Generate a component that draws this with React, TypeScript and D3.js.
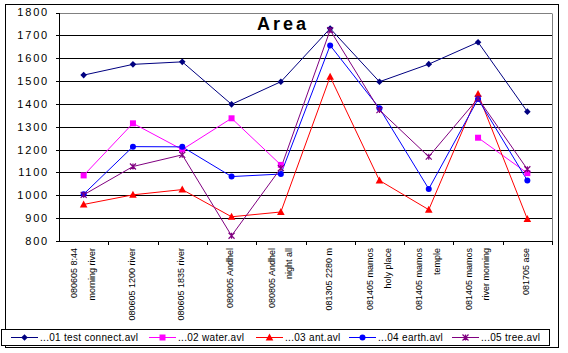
import React from "react";
import * as d3 from "d3";

const categories: string[][] = [
  ["080605 8:44", "morning river"],
  ["080605 1200 river"],
  ["080605 1835 river"],
  ["080805 Andhel"],
  ["080805 Andhel", "night all"],
  ["081305 2280 m"],
  ["081405 mamos", "holy place"],
  ["081405 mamos", "temple"],
  ["081405 mamos", "river morning"],
  ["081705 ase"],
];

const seriesNames = ["...01 test connect.avl", "...02 water.avl", "...03 ant.avl", "...04 earth.avl", "...05 tree.avl"];
const seriesColors = ["#000080", "#FF00FF", "#FF0000", "#0000FF", "#800080"];
const seriesMarkers = ["diamond", "square", "triangle", "circle", "cross"];

const s01: (number | null)[] = [1526, 1573, 1584, 1398, 1497, 1730, 1497, 1574, 1670, 1366];
const s02: (number | null)[] = [1087, 1315, 1200, 1337, 1133, null, null, null, 1252, 1097];
const s03: (number | null)[] = [960, 1002, 1025, 906, 927, 1519, 1065, 937, 1443, 896];
const s04: (number | null)[] = [1005, 1213, 1212, 1082, 1093, 1656, 1381, 1028, 1421, 1065];
const s05: (number | null)[] = [1002, 1126, 1177, 823, 1119, 1723, 1373, 1169, 1424, 1114];
const seriesValues = [s01, s02, s03, s04, s05];

const yTicks = [800, 900, 1000, 1100, 1200, 1300, 1400, 1500, 1600, 1700, 1800];
const title = "Area";

const legendX = [11, 149, 256, 349, 452];

const W = 568;
const H = 353;
const plot = { left: 59, right: 552, top: 12.5, bottom: 241 };
const FONT = "Arial, 'Liberation Sans', sans-serif";

function Marker({ type, x, y, color }: { type: string; x: number; y: number; color: string }) {
  if (type === "diamond") {
    const r = 3.3;
    return <path d={`M${x},${y - r}L${x + r},${y}L${x},${y + r}L${x - r},${y}Z`} fill={color} />;
  }
  if (type === "square") {
    return <rect x={x - 3} y={y - 3} width={6} height={6} fill={color} />;
  }
  if (type === "triangle") {
    return <path d={`M${x},${y - 4}L${x + 3.8},${y + 3}L${x - 3.8},${y + 3}Z`} fill={color} />;
  }
  if (type === "circle") {
    return <circle cx={x} cy={y} r={3} fill={color} />;
  }
  const r = 3;
  return (
    <path
      d={`M${x - r},${y - r}L${x + r},${y + r}M${x - r},${y + r}L${x + r},${y - r}M${x},${y - r}L${x},${y + r}`}
      stroke={color}
      strokeWidth={1.2}
      fill="none"
    />
  );
}

export default function App() {
  const x = d3
    .scaleBand<number>()
    .domain(categories.map((_, i) => i))
    .range([plot.left, plot.right]);
  const y = d3.scaleLinear().domain([800, 1800]).range([plot.bottom, plot.top]);
  const cx = (i: number) => (x(i) as number) + x.bandwidth() / 2;

  const line = d3
    .line<number | null>()
    .defined((d) => d !== null)
    .x((_, i) => cx(i))
    .y((d) => y(d as number));

  return (
    <svg
      width={W}
      height={H}
      style={{ position: "absolute", left: 0, top: 0, background: "#fff" }}
      fontFamily={FONT}
    >
      <rect x={0} y={0} width={W} height={H} fill="#fff" />
      {/* outer frame */}
      <rect x={5.5} y={4.5} width={553} height={343} fill="none" stroke="#000" strokeWidth={1} />

      {/* gridlines */}
      {yTicks.map((t) => (
        <line
          key={t}
          x1={plot.left}
          x2={plot.right}
          y1={Math.round(y(t)) + 0.5}
          y2={Math.round(y(t)) + 0.5}
          stroke={t === 1800 ? "#808080" : "#000"}
          strokeWidth={1}
        />
      ))}
      <line x1={plot.right + 0.5} x2={plot.right + 0.5} y1={Math.round(y(1800)) + 0.5} y2={Math.round(y(800)) + 0.5} stroke="#808080" />
      <line x1={plot.left + 0.5} x2={plot.left + 0.5} y1={Math.round(y(1800))} y2={Math.round(y(800)) + 1} stroke="#000" />

      {/* y ticks */}
      {yTicks.map((t) => (
        <g key={"yt" + t}>
          <line x1={plot.left - 3} x2={plot.left} y1={Math.round(y(t)) + 0.5} y2={Math.round(y(t)) + 0.5} stroke="#000" />
          <text x={49} y={y(t)} dy="0.36em" textAnchor="end" fontSize={11} letterSpacing={1.8}>
            {t}
          </text>
        </g>
      ))}

      {/* x ticks */}
      {categories.map((_, i) => (
        <line
          key={"xt" + i}
          x1={Math.round((x(i) as number) + x.bandwidth()) + 0.5}
          x2={Math.round((x(i) as number) + x.bandwidth()) + 0.5}
          y1={plot.bottom}
          y2={plot.bottom + 4}
          stroke="#000"
        />
      ))}

      {/* x labels */}
      {categories.map((lines, i) => {
        const c = cx(i);
        const offsets = lines.length === 2 ? [-9.5, 8] : [-1.5];
        return lines.map((l, j) => (
          <text
            key={`xl${i}-${j}`}
            transform={`translate(${c + offsets[j]},248) rotate(-90)`}
            textAnchor="end"
            dy="0.35em"
            fontSize={9}
          >
            {l}
          </text>
        ));
      })}

      {/* series lines */}
      {seriesValues.map((vals, si) => (
        <path key={"l" + si} d={line(vals) || ""} fill="none" stroke={seriesColors[si]} strokeWidth={1} />
      ))}
      {seriesValues.map((vals, si) =>
        vals.map((v, i) =>
          v === null ? null : (
            <Marker key={`m${si}-${i}`} type={seriesMarkers[si]} x={cx(i)} y={y(v)} color={seriesColors[si]} />
          )
        )
      )}

      {/* title */}
      <text x={283} y={30} textAnchor="middle" fontSize={18} fontWeight="bold" letterSpacing={3}>
        {title}
      </text>

      {/* legend */}
      <rect x={1.5} y={329.5} width={548} height={16} fill="#fff" stroke="#000" />
      {seriesNames.map((n, si) => {
        const lx = legendX[si];
        return (
          <g key={"lg" + si}>
            <line x1={lx} x2={lx + 27} y1={337.5} y2={337.5} stroke={seriesColors[si]} strokeWidth={1} />
            <Marker type={seriesMarkers[si]} x={lx + 13.5} y={337.5} color={seriesColors[si]} />
            <text x={lx + 29} y={337.5} dy="0.35em" fontSize={10} letterSpacing={0.3}>
              {n}
            </text>
          </g>
        );
      })}
    </svg>
  );
}
